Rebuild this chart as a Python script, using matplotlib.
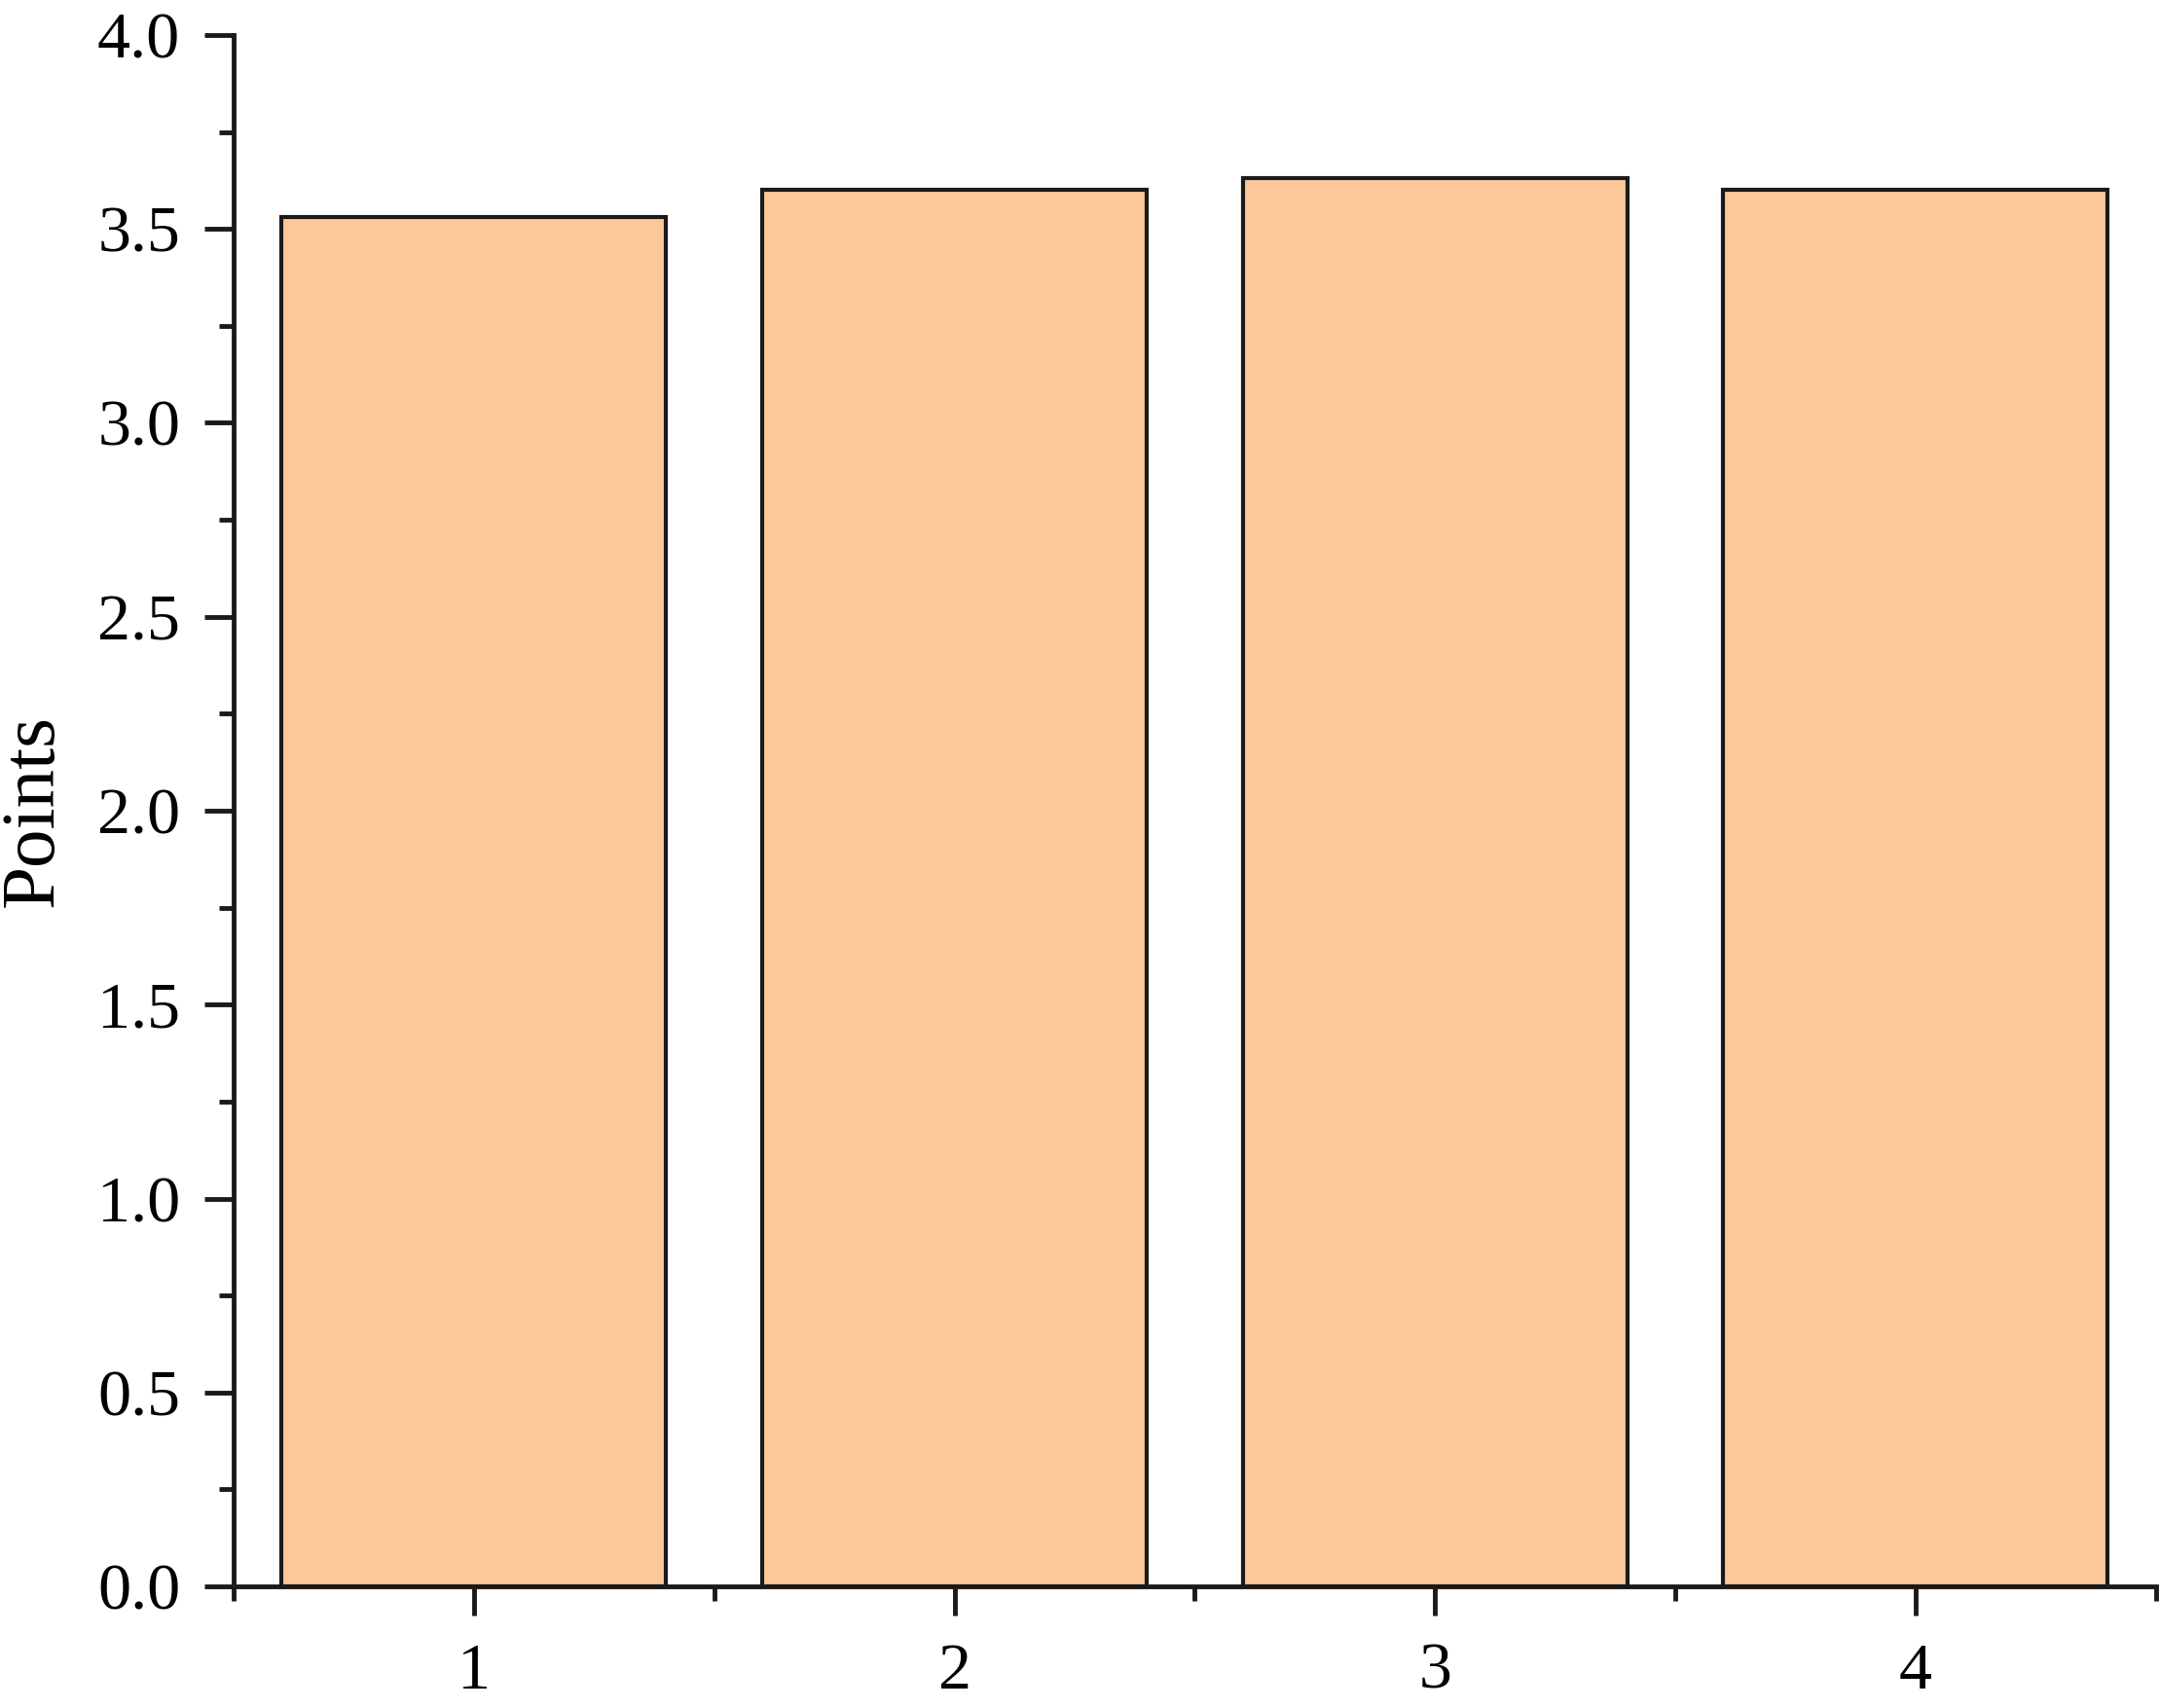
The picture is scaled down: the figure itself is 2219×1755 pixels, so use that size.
import numpy as np
import matplotlib
matplotlib.use("Agg")
import matplotlib.pyplot as plt
from matplotlib.ticker import MultipleLocator

# bar data
groups = [1, 2, 3, 4]
points = [3.53, 3.60, 3.63, 3.60]

plt.rcParams['font.family'] = ['Liberation Serif', 'DejaVu Serif']

fig = plt.figure(figsize=(22.19, 17.55), dpi=100)
ax = fig.add_axes([0.1082, 0.0712, 0.8898, 0.9083])

ax.bar(groups, points, width=0.8, color='#FCC89A', edgecolor='#1a1a1a', linewidth=3.0, zorder=2)

ax.set_xlim(0.5, 4.5)
ax.set_ylim(0, 4.0)
ax.set_xticks(groups)
ax.set_xticks(np.array(groups + [5]) - 0.5, minor=True)
ax.yaxis.set_major_locator(MultipleLocator(0.5))
ax.yaxis.set_minor_locator(MultipleLocator(0.25))
ax.yaxis.set_major_formatter(matplotlib.ticker.FormatStrFormatter('%.1f'))

for s in ['top', 'right']:
        ax.spines[s].set_visible(False)
for s in ['left', 'bottom']:
        ax.spines[s].set_linewidth(3.5)
        ax.spines[s].set_color('#1a1a1a')

ax.tick_params(which='major', direction='out', length=21.5, width=3.5, color='#1a1a1a', labelsize=49)
ax.tick_params(which='minor', direction='out', length=10.8, width=3.5, color='#1a1a1a')
ax.tick_params(axis='x', which='major', pad=20)
ax.tick_params(axis='y', which='major', pad=18)

ax.set_ylabel('Points', fontsize=57)
ax.yaxis.set_label_coords(-0.0856, 0.5)

fig.savefig('out.png', dpi=100)
